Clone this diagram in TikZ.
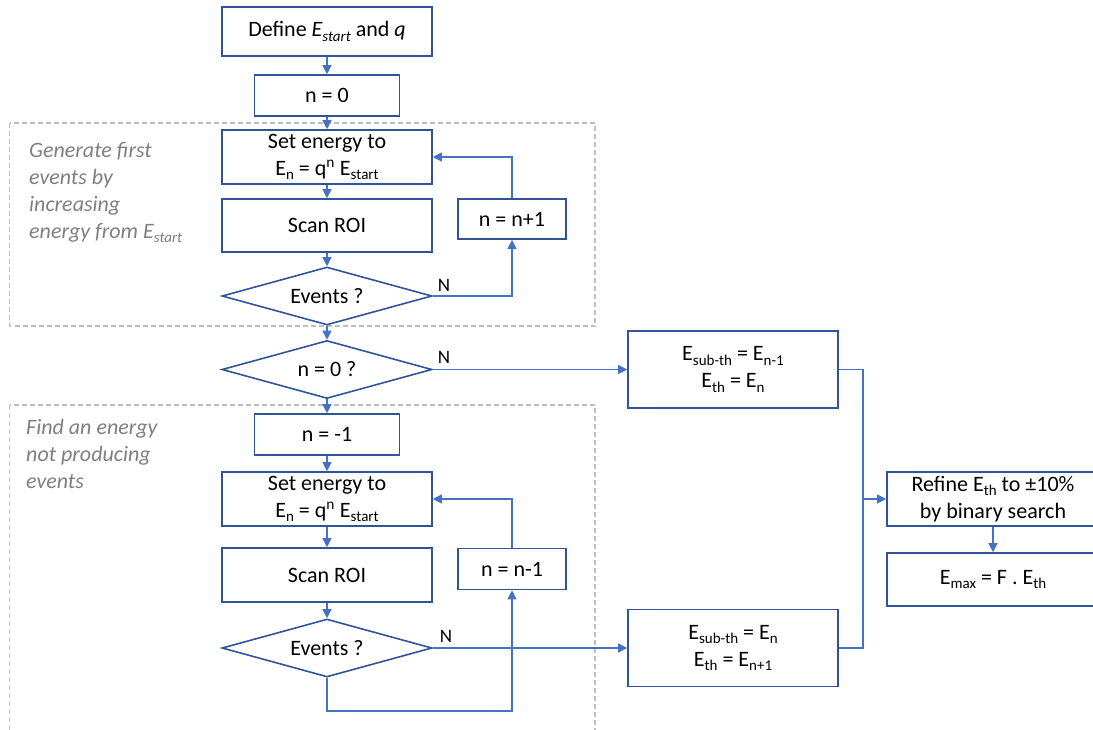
\documentclass[tikz,border=0pt]{standalone}
\usepackage{fontspec}
\setmainfont{Carlito}
\usetikzlibrary{shapes.geometric,arrows.meta}
\definecolor{boxblue}{HTML}{2F5597}
\definecolor{lineblue}{HTML}{4472C4}
\definecolor{notegray}{HTML}{7F7F7F}
\definecolor{dashgray}{HTML}{BFBFBF}
\newcommand\mainfs{\fontsize{22}{27}\selectfont}
\newcommand\labfs{\fontsize{19}{23}\selectfont}
\newcommand\lowsub[1]{\raisebox{-4.5pt}{\fontsize{15}{15}\selectfont #1}}
\begin{document}
\begin{tikzpicture}[x=1pt,y=-1pt,
  box/.style={draw=boxblue, line width=1.6pt, inner sep=0pt, align=center, font=\mainfs},
  dec/.style={diamond, aspect=3.6, draw=boxblue, line width=1.6pt, inner sep=0pt, font=\mainfs, minimum width=210pt, minimum height=58pt},
  conn/.style={draw=lineblue, line width=1.1pt},
  arr/.style={conn, -{Triangle[length=9pt,width=9pt]}},
  note/.style={align=left, inner sep=0pt, text=notegray, font=\mainfs\itshape, anchor=north west},
  region/.style={draw=dashgray, line width=1.3pt, dash pattern=on 5pt off 3pt},
  lab/.style={inner sep=0pt, font=\labfs}]
\useasboundingbox (0,0) rectangle (1093,729);

% dashed regions
\draw[region] (9.5,123) rectangle (595,326);
\draw[region] (9.5,405) rectangle (595,740);

% notes
\node[note] (g1) at (29,142) {Generate first\\events by\\increasing\\energy from E\lowsub{start}};
\node[note] (g2) at (26,419) {Find an energy\\not producing\\events};

% main column
\node[box, minimum width=210pt, minimum height=49pt] (def) at (327,31.5) {Define \textit{E\lowsub{start}} and \textit{q}};
\node[box, minimum width=145pt, minimum height=41pt] (n0) at (327,95.5) {n = 0};
\node[box, minimum width=210pt, minimum height=54pt] (set1) at (327,157) {Set energy to\\E\lowsub{n} = q\textsuperscript{n} E\lowsub{start}};
\node[box, minimum width=210pt, minimum height=53pt] (scan1) at (327,225.5) {Scan ROI};
\node[dec] (ev1) at (327,296) {Events ?};
\node[box, minimum width=108pt, minimum height=40pt] (nn1) at (512,219) {n = n+1};

\node[dec] (n0q) at (327,369.5) {n = 0 ?};

\node[box, minimum width=145pt, minimum height=41pt] (nm1) at (327,434.5) {n = -1};
\node[box, minimum width=210pt, minimum height=54pt] (set2) at (327,499) {Set energy to\\E\lowsub{n} = q\textsuperscript{n} E\lowsub{start}};
\node[box, minimum width=210pt, minimum height=54pt] (scan2) at (327,575) {Scan ROI};
\node[dec] (ev2) at (327,648) {Events ?};
\node[box, minimum width=108pt, minimum height=41pt] (nn2) at (512,569) {n = n-1};

% right side
\node[box, minimum width=210pt, minimum height=77pt] (es1) at (733,369.5) {E\lowsub{sub-th} = E\lowsub{n-1}\\E\lowsub{th} = E\lowsub{n}};
\node[box, minimum width=210pt, minimum height=77pt] (es2) at (733,648) {E\lowsub{sub-th} = E\lowsub{n}\\E\lowsub{th} = E\lowsub{n+1}};
\node[box, minimum width=212pt, minimum height=54pt] (ref) at (993,499) {Refine E\lowsub{th} to ±10\%\\by binary search};
\node[box, minimum width=212pt, minimum height=53pt] (emax) at (993,579.5) {E\lowsub{max} = F . E\lowsub{th}};

% connectors
\draw[arr] (def) -- (n0);
\draw[arr] (n0) -- (set1);
\draw[arr] (set1) -- (scan1);
\draw[arr] (scan1) -- (ev1);
\draw[arr] (ev1.east) -| (nn1.south);
\draw[arr] (nn1.north) |- (set1.east);
\draw[arr] (ev1.south) -- (n0q.north);
\draw[arr] (n0q.east) -- (es1.west);
\draw[arr] (n0q.south) -- (nm1.north);
\draw[arr] (nm1) -- (set2);
\draw[arr] (set2) -- (scan2);
\draw[arr] (scan2) -- (ev2);
\coordinate (lb) at (327,711);
\draw[arr] (ev2.south) -- (lb) -| (nn2.south);
\draw[arr] (nn2.north) |- (set2.east);
\draw[arr] (ev2.east) -- (es2.west);
\coordinate (j) at (863,499);
\draw[conn] (es1.east) -| (j);
\draw[conn] (es2.east) -| (j);
\draw[arr] (j) -- (ref.west);
\draw[arr] (ref) -- (emax);

% labels
\node[lab] (l1) at (444,285) {N};
\node[lab] (l2) at (444,357) {N};
\node[lab] (l3) at (446,636) {N};
\end{tikzpicture}
\end{document}
